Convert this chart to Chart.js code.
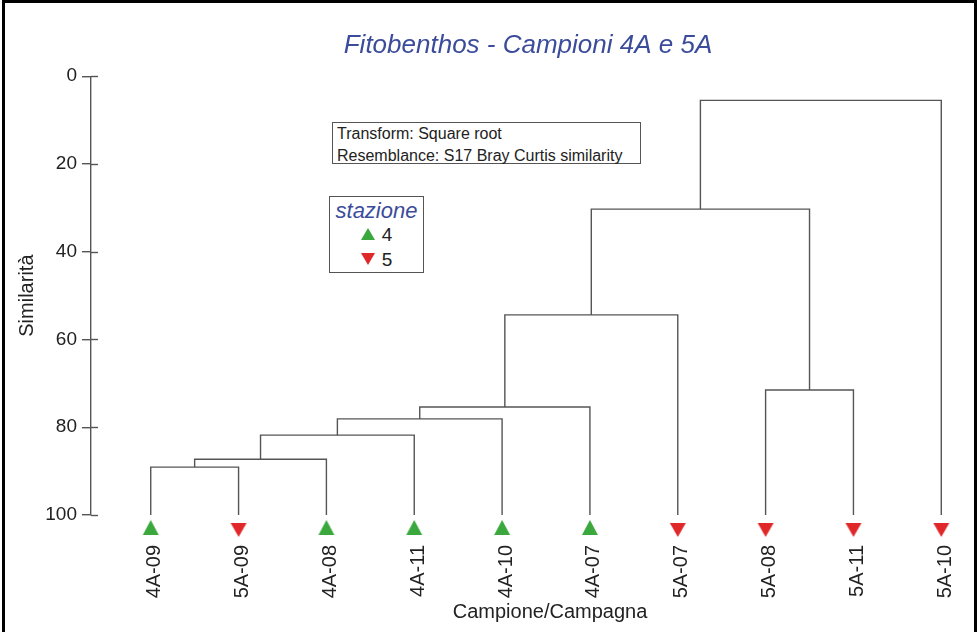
<!DOCTYPE html>
<html>
<head>
<meta charset="utf-8">
<script src="https://cdn.jsdelivr.net/npm/chart.js@4"></script>
<style>
  html, body { margin: 0; padding: 0; background: #fff; overflow: hidden; }
  #wrap { position: relative; width: 979px; height: 632px; font-family: "Liberation Sans", Arial, sans-serif; color: #222; }
  #frame { position: absolute; left: 2px; top: 0; width: 975px; height: 660px; border: 3px solid #000; box-sizing: border-box; pointer-events: none; }
  .box { position: absolute; border: 1px solid #555; background: #fff; box-sizing: border-box; }
  #info { left: 332px; top: 122px; width: 309px; height: 42px; font-size: 16px; line-height: 22px; padding: 0 0 0 4px; }
  #key { left: 329px; top: 196px; width: 95px; height: 77px; text-align: center; }
  #key .head { font-style: italic; color: #3b4c9b; font-size: 22px; line-height: 26px; margin-top: 1px; }
  #key .row { font-size: 19px; line-height: 22px; height: 25px; }
  .up, .down { display: inline-block; width: 0; height: 0; border-left: 7px solid transparent; border-right: 7px solid transparent; margin-right: 7px; vertical-align: 1px; }
  .up { border-bottom: 12px solid #3aa83c; }
  .down { border-top: 12px solid #e0282a; }
  #xtitle { position: absolute; left: 400px; width: 300px; top: 600px; text-align: center; font-size: 20px; }
</style>
</head>
<body>
<div id="wrap">
  <canvas id="dendro"></canvas>
  <div id="info" class="box">Transform: Square root<br>Resemblance: S17 Bray Curtis similarity</div>
  <div id="key" class="box">
    <div class="head">stazione</div>
    <div class="row"><span class="up"></span>4</div>
    <div class="row"><span class="down"></span>5</div>
  </div>
  <div id="xtitle">Campione/Campagna</div>
  <div id="frame"></div>
</div>
<script>
// samples in dendrogram order, and their station
const leafNames = ['4A-09', '5A-09', '4A-08', '4A-11', '4A-10', '4A-07', '5A-07', '5A-08', '5A-11', '5A-10'];
const leafStation = [4, 5, 4, 4, 4, 4, 5, 5, 5, 5];

// joins: node ids 0-9 are leaves, join k creates node 10+k
const joinLeft  = [0, 10, 11, 12, 13, 14, 7, 15, 17];
const joinRight = [1, 2, 3, 4, 5, 6, 8, 16, 9];
const joinSim   = [89.1, 87.3, 81.8, 78.1, 75.4, 54.4, 71.5, 30.3, 5.5];

const yTicks = [0, 20, 40, 60, 80, 100];

const lineColor = '#555';
const stationColor = { 4: '#3aa83c', 5: '#e0282a' };

// build branch paths
const nodeX = leafNames.map((_, i) => i);
const nodeY = leafNames.map(() => 100);
const branchSets = joinSim.map((sim, k) => {
  const a = joinLeft[k], b = joinRight[k];
  const pts = [
    { x: nodeX[a], y: nodeY[a] },
    { x: nodeX[a], y: sim },
    { x: nodeX[b], y: sim },
    { x: nodeX[b], y: nodeY[b] }
  ];
  nodeX.push((nodeX[a] + nodeX[b]) / 2);
  nodeY.push(sim);
  return {
    type: 'line',
    data: pts,
    borderColor: lineColor,
    borderWidth: 1.4,
    pointRadius: 0,
    tension: 0,
    fill: false,
    clip: false
  };
});

// triangle sprites, drawn a little below the point they belong to
function triangleSprite(color, down) {
  const c = document.createElement('canvas');
  c.width = 20;
  c.height = 50;
  const g = c.getContext('2d');
  const top = 25 + (down ? 8 : 5);
  const h = down ? 14 : 15;
  g.fillStyle = color;
  g.beginPath();
  if (down) {
    g.moveTo(2, top); g.lineTo(18, top); g.lineTo(10, top + h);
  } else {
    g.moveTo(10, top); g.lineTo(18, top + h); g.lineTo(2, top + h);
  }
  g.closePath();
  g.fill();
  return c;
}
const sprites = {
  4: triangleSprite(stationColor[4], false),
  5: triangleSprite(stationColor[5], true)
};

const markerSet = {
  type: 'scatter',
  data: leafNames.map((_, i) => ({ x: i, y: 100 })),
  pointStyle: leafStation.map(s => sprites[s]),
  pointRadius: 10,
  pointHoverRadius: 10,
  clip: false
};

// small right-hand part of the crossing tick marks
const tickCross = {
  id: 'tickCross',
  afterDraw(chart) {
    const { ctx, chartArea, scales: { y } } = chart;
    ctx.save();
    ctx.strokeStyle = lineColor;
    ctx.lineWidth = 1.4;
    y.ticks.forEach(t => {
      const py = Math.round(y.getPixelForValue(t.value)) + 0.5;
      ctx.beginPath();
      ctx.moveTo(chartArea.left, py);
      ctx.lineTo(chartArea.left + 7, py);
      ctx.stroke();
    });
    ctx.restore();
  }
};

const font = '"Liberation Sans", Arial, sans-serif';

new Chart(document.getElementById('dendro').getContext('2d'), {
  data: { datasets: [...branchSets, markerSet] },
  options: {
    responsive: true,
    maintainAspectRatio: false,
    animation: false,
    layout: { padding: { left: 0, right: 14, top: 0, bottom: 0 } },
    plugins: {
      legend: { display: false },
      tooltip: { enabled: false },
      title: {
        display: true,
        fullSize: false,
        text: 'Fitobenthos - Campioni 4A e 5A',
        color: '#3b4c9b',
        font: { family: font, size: 26, style: 'italic', weight: 'normal' },
        padding: { top: 30, bottom: 15 }
      }
    },
    scales: {
      x: {
        type: 'linear',
        min: -0.68,
        max: 9.27,
        grid: { display: false, drawTicks: false },
        border: { display: false },
        afterBuildTicks: s => { s.ticks = leafNames.map((_, i) => ({ value: i })); },
        afterFit: s => { s.height = 117; s.paddingLeft = 0; s.paddingRight = 0; },
        ticks: {
          autoSkip: false,
          minRotation: 90,
          maxRotation: 90,
          padding: 30,
          labelOffset: 4,
          color: '#222',
          font: { family: font, size: 20 },
          callback: v => leafNames[v]
        }
      },
      y: {
        type: 'linear',
        reverse: true,
        min: 0,
        max: 100,
        afterBuildTicks: s => { s.ticks = yTicks.map(v => ({ value: v })); },
        afterFit: s => { s.width = 91; },
        grid: { drawOnChartArea: false, drawTicks: true, tickLength: 9, color: lineColor, lineWidth: 1.4 },
        border: { display: true, color: lineColor, width: 1.4 },
        ticks: { padding: 5, color: '#222', font: { family: font, size: 19 } },
        title: {
          display: true,
          text: 'Similarità',
          color: '#222',
          font: { family: font, size: 20 },
          padding: { top: 15, bottom: 0 }
        }
      }
    }
  },
  plugins: [tickCross]
});
</script>
</body>
</html>
